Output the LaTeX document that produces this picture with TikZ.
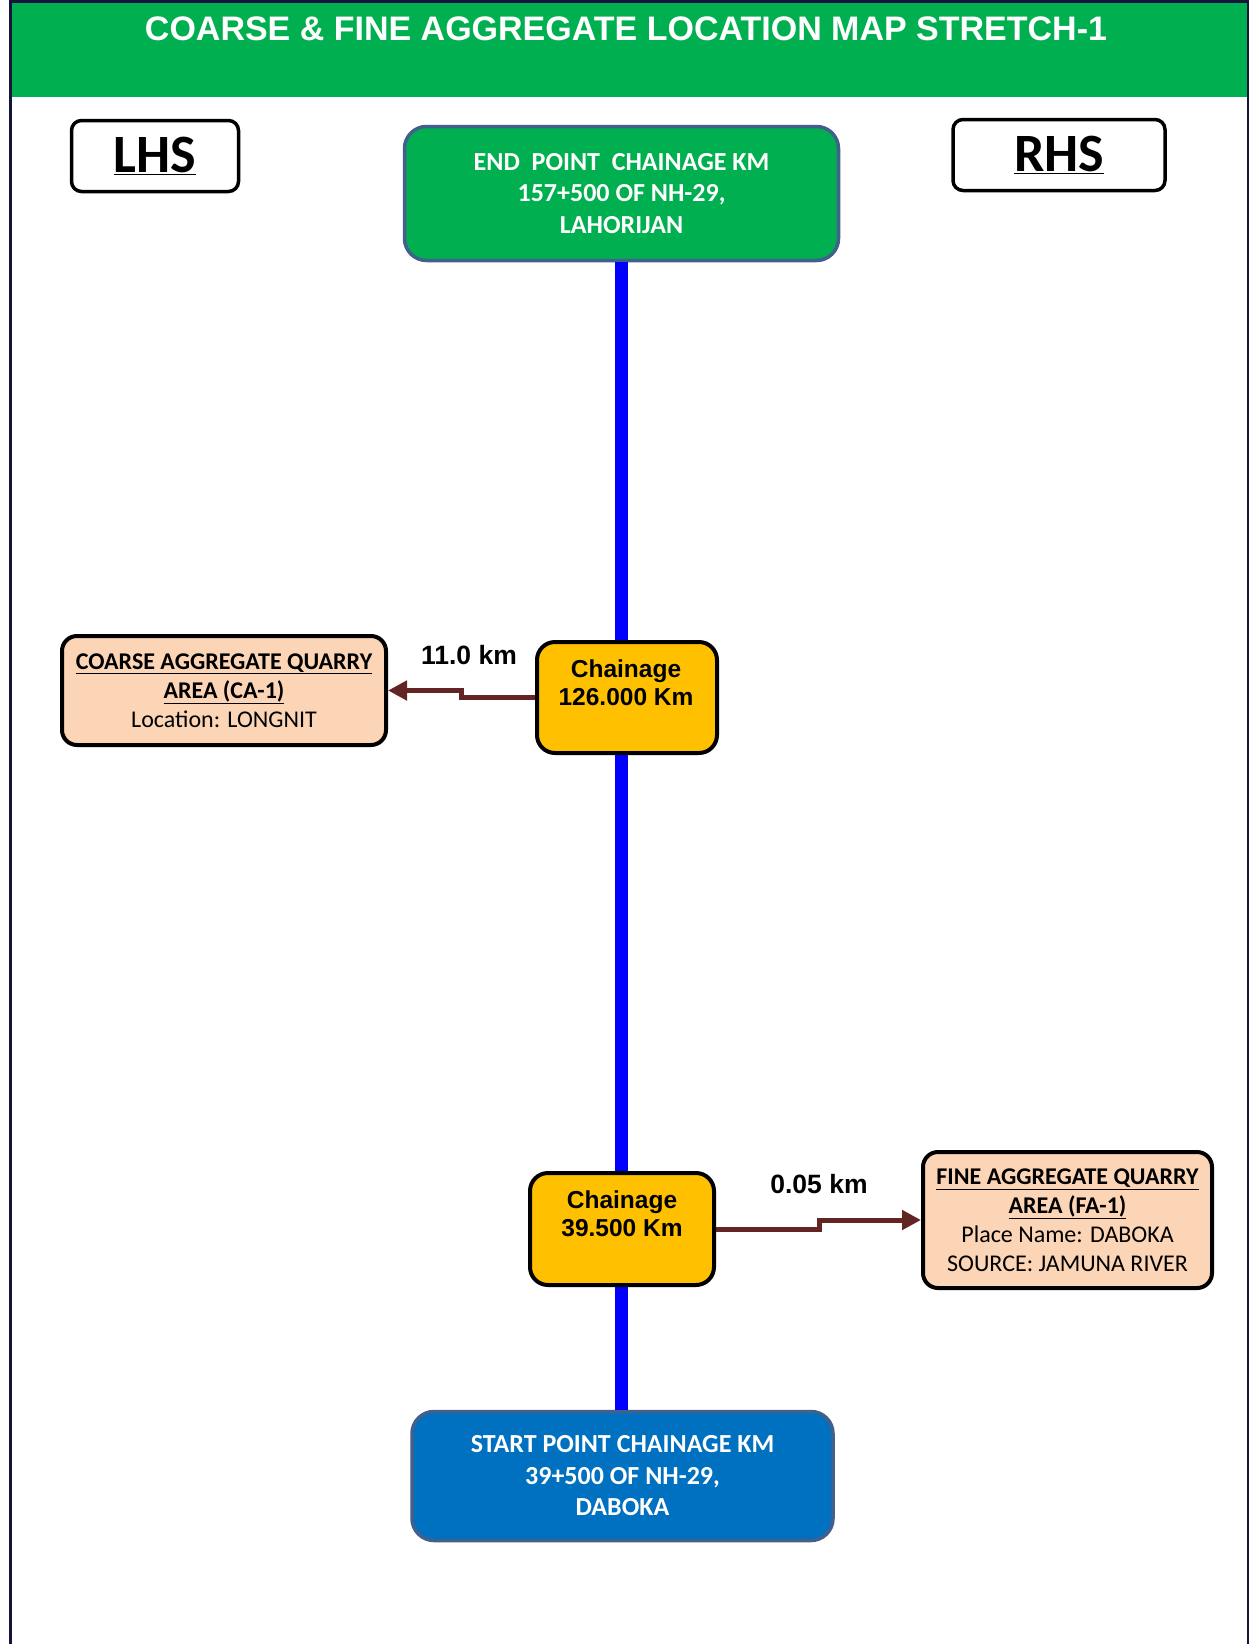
\documentclass[tikz,border=0pt]{standalone}
\usepackage{fontspec}
\setmainfont{Carlito}
\newfontfamily\arialfont{Liberation Sans}
\usetikzlibrary{arrows.meta}
\definecolor{bandgreen}{HTML}{00B050}
\definecolor{slate}{HTML}{41608C}
\definecolor{startblue}{HTML}{0070C0}
\definecolor{chgold}{HTML}{FFC000}
\definecolor{peach}{HTML}{FBD5B5}
\definecolor{arrowred}{HTML}{632523}
\definecolor{framenavy}{HTML}{14143C}
\begin{document}
\begin{tikzpicture}[x=1pt,y=-1pt,
  sidebox/.style={draw=black,line width=3.5pt,rounded corners=10pt,minimum width=167pt,minimum height=71pt,inner sep=0pt,font=\fontsize{54}{60}\selectfont\bfseries},
  pointbox/.style={draw=slate,line width=3.5pt,rounded corners=22pt,inner sep=0pt,text=white,align=center,font=\fontsize{26}{31.5}\selectfont\bfseries},
  chbox/.style={draw=black,fill=chgold,line width=4pt,rounded corners=18pt,inner sep=0pt},
  chtext/.style={align=center,font=\arialfont\fontsize{24.5}{28}\selectfont\bfseries},
  quarry/.style={draw=black,fill=peach,line width=4pt,rounded corners=15pt,inner sep=0pt,align=center,font=\fontsize{24}{29}\selectfont},
  dist/.style={font=\arialfont\fontsize{26.5}{30}\selectfont\bfseries},
  road/.style={draw=blue,line width=13pt},
  conn/.style={draw=arrowred,line width=5pt,-{Triangle[length=19pt,width=19pt]}}
]
\useasboundingbox (0,0) rectangle (1250,1644);
\fill[white] (0,0) rectangle (1250,1644);
\fill[bandgreen] (10.5,1) rectangle (1248,96.5);
\draw[framenavy,line width=2.5pt] (10.5,1644) -- (10.5,1.25) -- (1248,1.25) -- (1248,1644);

\node[text=white,font=\arialfont\fontsize{34}{40}\selectfont\bfseries] (title) at (626,29) {COARSE \& FINE AGGREGATE LOCATION MAP STRETCH-1};

\node[sidebox] (lhs) at (155,156) {\underline{LHS}};
\node[sidebox,minimum width=212pt] (rhs) at (1059,155) {\underline{RHS}};

\node[pointbox,fill=bandgreen,minimum width=434pt,minimum height=134pt] (endpt) at (621.5,193.5) {END\ \ POINT\ \ CHAINAGE KM\\157+500 OF NH-29,\\LAHORIJAN};
\node[pointbox,fill=startblue,minimum width=421pt,minimum height=129pt] (startpt) at (622.5,1476) {START POINT CHAINAGE KM\\39+500 OF NH-29,\\DABOKA};

\draw[road] (endpt.south) -- (endpt.south |- startpt.north);

\node[chbox,minimum width=180pt,minimum height=111pt] (ch1) at (627,697.5) {};
\node[chtext] (ch1t) at (626,683) {Chainage\\126.000 Km};
\node[chbox,minimum width=184pt,minimum height=112pt] (ch2) at (622,1229) {};
\node[chtext] (ch2t) at (622,1214) {Chainage\\39.500 Km};

\node[quarry,minimum width=324pt,minimum height=109pt] (ca) at (224,690.5) {\textbf{\underline{COARSE AGGREGATE QUARRY}}\\\textbf{\underline{AREA (CA-1)}}\\Location: LONGNIT};
\node[quarry,minimum width=289pt,minimum height=136pt] (fa) at (1067.5,1220) {\textbf{\underline{FINE AGGREGATE QUARRY}}\\\textbf{\underline{AREA (FA-1)}}\\Place Name: DABOKA\\SOURCE: JAMUNA RIVER};

\draw[conn] (ch1.west) -- ++(-74,0) |- (ca.east);
\draw[conn] (ch2.east) -- ++(103,0) |- (fa.west);

\node[dist] (d1) at (469,655) {11.0 km};
\node[dist] (d2) at (819,1184) {0.05 km};
\end{tikzpicture}
\end{document}
